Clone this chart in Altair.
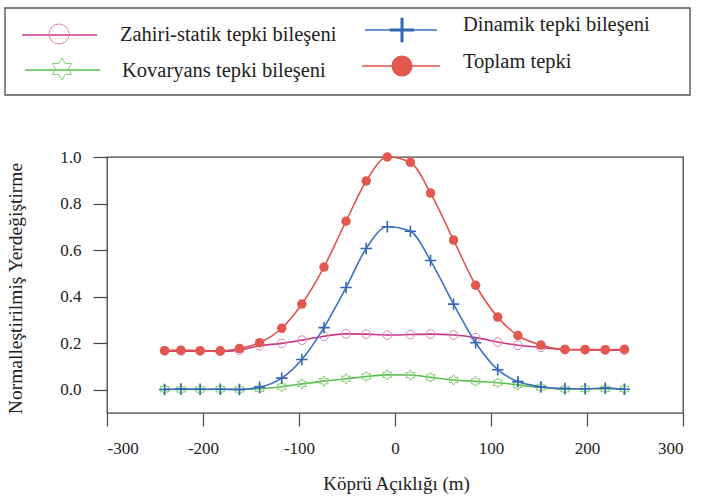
import math
import altair as alt
import pandas as pd

# Bridge span positions (m) and normalized displacement components
span_m = [-240, -223, -203, -182, -162, -141, -118, -97, -74, -51, -30, -8,
          16, 37, 61, 84, 107, 128, 152, 177, 198, 219, 239]

quasi_static = [0.167, 0.166, 0.166, 0.165, 0.170, 0.189, 0.199, 0.213, 0.230, 0.240, 0.239, 0.235,
                0.237, 0.239, 0.235, 0.224, 0.205, 0.191, 0.182, 0.173, 0.171, 0.170, 0.170]
dynamic = [0.001, 0.003, 0.002, 0.002, 0.001, 0.011, 0.050, 0.130, 0.267, 0.439, 0.607, 0.700,
           0.681, 0.555, 0.368, 0.202, 0.086, 0.035, 0.013, 0.005, 0.004, 0.007, 0.002]
covariance = [0.002, 0.001, 0.001, 0.002, 0.001, 0.004, 0.013, 0.025, 0.037, 0.047, 0.057, 0.064,
              0.063, 0.053, 0.042, 0.036, 0.030, 0.021, 0.010, 0.002, 0.004, 0.004, 0.003]
total = [0.168, 0.170, 0.168, 0.167, 0.177, 0.202, 0.264, 0.368, 0.527, 0.724, 0.897, 1.000,
         0.977, 0.845, 0.643, 0.449, 0.312, 0.233, 0.192, 0.173, 0.173, 0.172, 0.174]

series_names = ["Zahiri-statik tepki bileşeni", "Dinamik tepki bileşeni",
                "Kovaryans tepki bileşeni", "Toplam tepki"]

x_ticks = [-300, -200, -100, 0, 100, 200, 300]
y_ticks = [0.0, 0.2, 0.4, 0.6, 0.8, 1.0]

FONT = "Liberation Serif"
W, H = 576, 256
PAD = {"left": 107, "top": 157, "right": 19, "bottom": 88}

# Marker shapes as SVG paths in the [-1, 1] box
PLUS = "M-1,0L1,0M0,-1L0,1"
pts = []
for i in range(12):
    r = 1.0 if i % 2 == 0 else 1 / math.sqrt(3)
    a = math.radians(-90 + 30 * i)
    pts.append(f"{r * math.cos(a):.3f},{r * math.sin(a):.3f}")
HEXAGRAM = "M" + "L".join(pts) + "Z"

styles = {
    "Zahiri-statik tepki bileşeni": dict(line="#c8368a", shape="circle", filled=False,
                                         mcolor="#d884b6", size=75, lsize=400, sw=1.0),
    "Dinamik tepki bileşeni": dict(line="#3d72c2", shape=PLUS, filled=False,
                                   mcolor="#3566b4", size=130, lsize=600, sw=1.6),
    "Kovaryans tepki bileşeni": dict(line="#5cbf52", shape=HEXAGRAM, filled=False,
                                     mcolor="#80d070", size=110, lsize=480, sw=1.0),
    "Toplam tepki": dict(line="#e0564c", shape="circle", filled=True,
                         mcolor="#e2574e", size=90, lsize=440, sw=0),
}
values = {
    "Zahiri-statik tepki bileşeni": quasi_static,
    "Dinamik tepki bileşeni": dynamic,
    "Kovaryans tepki bileşeni": covariance,
    "Toplam tepki": total,
}

xscale = alt.Scale(domain=[-300, 300], nice=False, zero=False)
yscale = alt.Scale(domain=[-0.1, 1.0], nice=False, zero=False)

x_axis = alt.Axis(values=x_ticks, grid=False, domain=False,
                  labelExpr="datum.value < 0 ? '-' + abs(datum.value) : '' + datum.value",
                  tickSize=13, tickColor="#444", tickWidth=1.2,
                  labelFont=FONT, labelFontSize=17, labelColor="#222", labelPadding=14,
                  title="Köprü Açıklığı (m)", titleFont=FONT, titleFontSize=19,
                  titleFontWeight="normal", titleColor="#222",
                  titleX=289, titleY=70, titleBaseline="middle", titleAnchor="middle")
y_axis = alt.Axis(values=y_ticks, format=".1f", grid=False, domain=False,
                  tickSize=14, tickColor="#444", tickWidth=1.2,
                  labelFont=FONT, labelFontSize=17, labelColor="#222", labelPadding=12,
                  title="Normalleştirilmiş Yerdeğiştirme", titleFont=FONT, titleFontSize=19.5,
                  titleFontWeight="normal", titleColor="#222",
                  titleX=-92, titleY=131, titleBaseline="middle", titleAnchor="middle", titleAngle=270)

layers = []
draw_order = ["Kovaryans tepki bileşeni", "Zahiri-statik tepki bileşeni",
              "Dinamik tepki bileşeni", "Toplam tepki"]
for i, name in enumerate(draw_order):
    st = styles[name]
    df = pd.DataFrame({"x": span_m, "v": values[name]})
    if i == 0:
        xe = alt.X("x:Q", scale=xscale, axis=x_axis)
        ye = alt.Y("v:Q", scale=yscale, axis=y_axis)
    else:
        xe = alt.X("x:Q", scale=xscale)
        ye = alt.Y("v:Q", scale=yscale)
    base = alt.Chart(df)
    layers.append(base.mark_line(color=st["line"], strokeWidth=1.6, interpolate="monotone")
                  .encode(x=xe, y=ye))
    pm = dict(shape=st["shape"], size=st["size"], opacity=1)
    if st["filled"]:
        pm.update(filled=True, fill=st["mcolor"], strokeWidth=0)
    else:
        pm.update(filled=False, stroke=st["mcolor"], strokeWidth=st["sw"])
    layers.append(base.mark_point(**pm).encode(x=xe, y=ye))

# Legend box above the plot (positions in pixels relative to the plot origin)
ox, oy = PAD["left"], PAD["top"]
one = alt.Data(values=[{}])
layers.append(alt.Chart(one).mark_rect(fill="white", stroke="#555", strokeWidth=1.4)
              .encode(x=alt.value(5 - ox), x2=alt.value(690 - ox),
                      y=alt.value(8 - oy), y2=alt.value(95 - oy)))

legend_layout = {
    "Zahiri-statik tepki bileşeni": dict(l0=22, l1=97, ly=35, sx=59, sy=34, tx=120, ty=35),
    "Dinamik tepki bileşeni": dict(l0=365, l1=437, ly=30, sx=402, sy=30, tx=463, ty=25),
    "Kovaryans tepki bileşeni": dict(l0=25, l1=100, ly=70, sx=62, sy=69, tx=122, ty=71),
    "Toplam tepki": dict(l0=362, l1=440, ly=66, sx=402, sy=66, tx=463, ty=62),
}
for name in series_names:
    st = styles[name]
    p = legend_layout[name]
    layers.append(alt.Chart(one).mark_rule(color=st["line"], strokeWidth=1.6)
                  .encode(x=alt.value(p["l0"] - ox), x2=alt.value(p["l1"] - ox),
                          y=alt.value(p["ly"] - oy)))
    pm = dict(shape=st["shape"], size=st["lsize"], opacity=1)
    if st["filled"]:
        pm.update(filled=True, fill=st["mcolor"], strokeWidth=0)
    else:
        pm.update(filled=False, stroke=st["mcolor"],
                  strokeWidth=3.0 if st["shape"] == PLUS else 1.0)
    layers.append(alt.Chart(one).mark_point(**pm)
                  .encode(x=alt.value(p["sx"] - ox), y=alt.value(p["sy"] - oy)))
    layers.append(alt.Chart(one).mark_text(font=FONT, fontSize=20.5, color="#222",
                                           align="left", baseline="middle")
                  .encode(x=alt.value(p["tx"] - ox), y=alt.value(p["ty"] - oy),
                          text=alt.value(name)))

chart = alt.layer(*layers).properties(
    width=W, height=H,
    autosize=alt.AutoSizeParams(type="none"),
    padding=PAD,
    background="white",
).configure_view(
    stroke="#444", strokeWidth=1.3
).configure_axis(
    labelFont=FONT, titleFont=FONT
)

chart.save("out.html", embed_options={"renderer": "svg", "actions": False})
